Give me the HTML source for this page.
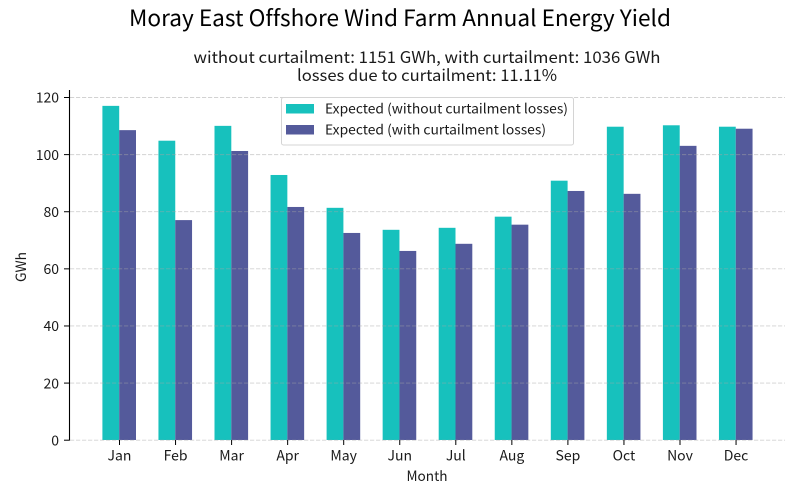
<!DOCTYPE html>
<html>
<head>
<meta charset="utf-8">
<style>
html,body{margin:0;padding:0;background:#fff;}
svg{display:block;}
text{font-family:"Noto Sans CJK JP","Liberation Sans",sans-serif;fill:#1a1a1a;font-variant-ligatures:none;}
</style>
</head>
<body>
<svg id="chart" width="800" height="500" viewBox="0 0 800 500" xmlns="http://www.w3.org/2000/svg">
<text x="400" y="26" text-anchor="middle" font-size="22.5" textLength="542" lengthAdjust="spacingAndGlyphs" style="fill:#000">Moray East Offshore Wind Farm Annual Energy Yield</text>
<text x="427" y="63" text-anchor="middle" font-size="16" textLength="467" lengthAdjust="spacingAndGlyphs">without curtailment: 1151 GWh, with curtailment: 1036 GWh</text>
<text x="427" y="81" text-anchor="middle" font-size="16" textLength="260" lengthAdjust="spacingAndGlyphs">losses due to curtailment: 11.11%</text>
<g id="bars"></g>
<g id="grid"></g>
<g id="axes"></g>
<text x="0" y="0" transform="translate(26,267) rotate(-90)" text-anchor="middle" font-size="14" textLength="30" lengthAdjust="spacingAndGlyphs">GWh</text>
<text x="427" y="481" text-anchor="middle" font-size="14" textLength="41" lengthAdjust="spacingAndGlyphs">Month</text>
<g>
<rect x="281.5" y="97.5" width="292" height="47.5" rx="2" fill="#fff" fill-opacity="0.8" stroke="#d4d4d4"/>
<rect x="286" y="104" width="28" height="9.5" fill="#17c1bd"/>
<text x="325" y="113.5" font-size="13.5" textLength="243" lengthAdjust="spacingAndGlyphs">Expected (without curtailment losses)</text>
<rect x="286" y="125" width="28" height="9.5" fill="#545a9b"/>
<text x="325" y="134.5" font-size="13.5" textLength="221" lengthAdjust="spacingAndGlyphs">Expected (with curtailment losses)</text>
</g>
</svg>
<script>
const months = ['Jan','Feb','Mar','Apr','May','Jun','Jul','Aug','Sep','Oct','Nov','Dec'];
const withoutCurtailment = [117, 104.8, 110, 92.8, 81.3, 73.6, 74.3, 78.2, 90.8, 109.7, 110.2, 109.7];
const withCurtailment = [108.5, 77, 101.2, 81.6, 72.5, 66.2, 68.7, 75.4, 87.2, 86.2, 103, 109];
const yTicks = [0, 20, 40, 60, 80, 100, 120];

const NS = 'http://www.w3.org/2000/svg';
const y = v => 440 - v * (342.7 / 120);
const x = i => 119.2 + i * 56.05;
const barW = 16.8;

function mk(parent, tag, attrs) {
  const el = document.createElementNS(NS, tag);
  for (const k in attrs) el.setAttribute(k, attrs[k]);
  parent.appendChild(el);
  return el;
}
const bars = document.getElementById('bars');
const grid = document.getElementById('grid');
const axes = document.getElementById('axes');

months.forEach((m, i) => {
  const a = mk(bars, 'rect', {x: x(i) - barW, y: y(withoutCurtailment[i]), width: barW, height: 440 - y(withoutCurtailment[i]), fill: '#17c1bd'});
  
  
  const b = mk(bars, 'rect', {x: x(i), y: y(withCurtailment[i]), width: barW, height: 440 - y(withCurtailment[i]), fill: '#545a9b'});
  
  
  const t = mk(axes, 'line', {x1: x(i) + 0.3, x2: x(i) + 0.3, y1: 440, y2: 445, stroke: '#000', 'stroke-width': 1});
  
  
  const l = mk(axes, 'text', {x: x(i) + 0.3, y: 460.5, 'text-anchor': 'middle', 'font-size': 14});
  
  
  l.textContent = m;
});

yTicks.forEach(v => {
  const py = y(v) + 0.2;
  const g = mk(grid, 'line', {x1: 70, x2: 785, y1: py, y2: py, stroke: 'rgb(165,165,165)', 'stroke-opacity': 0.5, 'stroke-width': 0.9, 'stroke-dasharray': '4.2 1.8'});
  
  
  const t = mk(axes, 'line', {x1: 64, x2: 69.5, y1: py, y2: py, stroke: '#000', 'stroke-width': 1});
  
  
  const l = mk(axes, 'text', {x: 59, y: py + 5.2, 'text-anchor': 'end', 'font-size': 14});
  
  
  l.textContent = v;
});

const spine = mk(axes, 'line', {x1: 69.5, x2: 69.5, y1: 90, y2: 440.5, stroke: '#000', 'stroke-width': 1.1});


</script>
</body>
</html>
